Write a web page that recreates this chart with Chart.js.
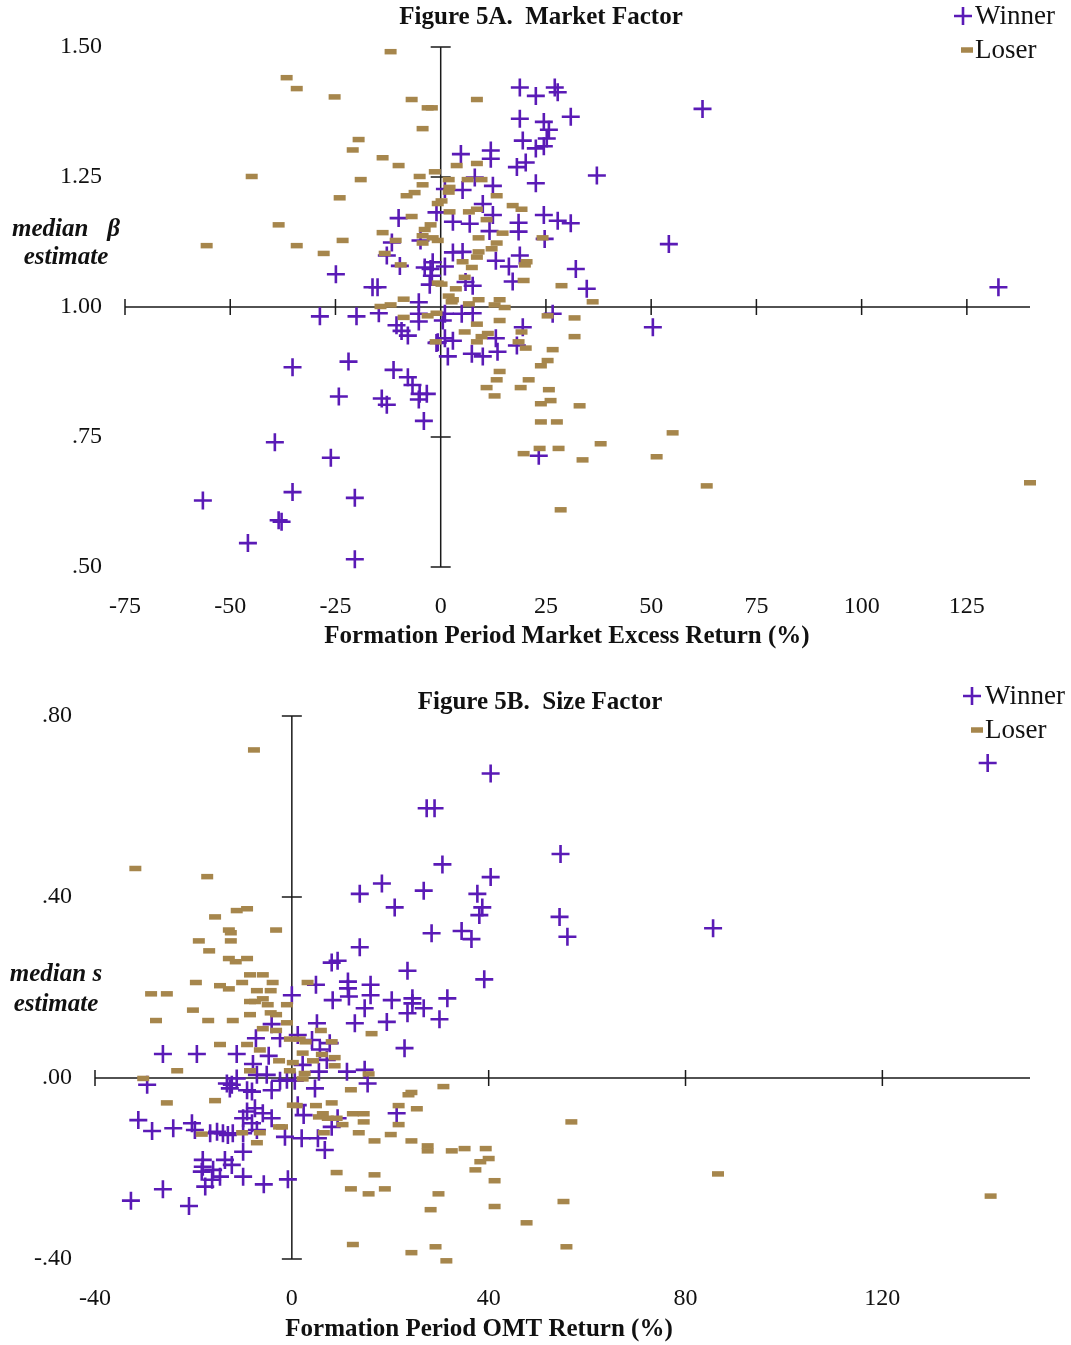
<!DOCTYPE html>
<html>
<head>
<meta charset="utf-8">
<title>Figure 5: Market and Size Factor Loadings</title>
<script src="https://cdn.jsdelivr.net/npm/chart.js@4.4.1/dist/chart.umd.min.js"></script>
<style>
  html, body { margin: 0; padding: 0; background: #ffffff; }
  #wrap { position: relative; width: 1071px; height: 1345px; }
  canvas { position: absolute; left: 0; }
  #fig5a { top: 0; }
  #fig5b { top: 660px; }
</style>
</head>
<body>
<div id="wrap">
  <canvas id="fig5a" width="1071" height="660"></canvas>
  <canvas id="fig5b" width="1071" height="685"></canvas>
</div>
<script>
// ---------- Figure 5A: market factor (median beta vs. formation-period market excess return, %) ----------
const seriesNames = ['Winner', 'Loser'];

const xTicks5A = [-75, -50, -25, 0, 25, 50, 75, 100, 125];
const xTickLabels5A = ['-75', '-50', '-25', '0', '25', '50', '75', '100', '125'];
const yTicks5A = [0.5, 0.75, 1.0, 1.25, 1.5];
const yTickLabels5A = ['.50', '.75', '1.00', '1.25', '1.50'];

const winnerX5A = [-10.0,-11.6,-4.8,-12.8,-9.7,-24.9,-15.0,-16.2,-3.8,-2.4,
  -2.6,-5.2,-1.0,18.8,22.6,27.1,27.8,30.9,18.8,24.5,
  25.7,25.2,19.5,22.6,24.5,4.8,11.9,11.9,18.1,20.2,
  37.1,22.6,8.1,12.4,5.2,10.0,1.0,24.5,27.8,30.9,
  18.5,18.5,12.4,2.9,6.9,11.6,24.7,18.8,13.1,16.2,
  32.1,5.2,2.9,1.0,-1.9,17.1,7.6,5.9,34.7,-2.1,
  62.2,54.2,132.5,-28.7,-20.0,-14.7,-5.2,-5.2,-10.5,-9.3,
  -7.8,-0.7,-35.2,-21.9,-11.2,-7.8,-6.7,-5.0,-3.3,-5.2,
  -14.0,-12.8,-24.2,-4.0,-39.4,-26.1,-56.5,-35.2,-20.4,-37.8,
  -38.5,-45.8,-20.4,0.5,1.0,5.0,7.6,26.6,19.5,50.4,
  1.0,2.9,-1.0,13.1,18.1,1.7,7.4,10.0,13.5,23.3];
const winnerY5A = [1.171,1.124,1.128,1.099,1.079,1.063,1.038,1.038,1.076,1.073,
  1.043,1.009,1.182,1.422,1.406,1.422,1.413,1.366,1.362,1.356,
  1.341,1.324,1.320,1.305,1.309,1.294,1.301,1.285,1.269,1.278,
  1.253,1.238,1.249,1.233,1.225,1.198,1.227,1.177,1.166,1.161,
  1.162,1.145,1.177,1.164,1.160,1.146,1.131,1.099,1.089,1.078,
  1.073,1.106,1.105,1.078,1.086,1.049,1.041,1.048,1.035,1.060,
  1.381,1.121,1.038,0.982,0.982,0.988,0.987,0.972,0.965,0.954,
  0.945,0.932,0.884,0.895,0.879,0.865,0.850,0.833,0.833,0.822,
  0.824,0.812,0.828,0.781,0.740,0.710,0.628,0.644,0.633,0.587,
  0.590,0.546,0.515,0.974,0.987,0.987,0.988,0.987,0.961,0.961,
  0.940,0.935,0.931,0.940,0.926,0.905,0.910,0.905,0.914,0.714];

const loserX5A = [-11.9,-36.6,-34.2,-25.2,-6.9,-3.1,-4.3,-19.5,-20.9,-13.8,
  -10.0,-44.9,-19.0,-1.4,-5.0,-4.3,-6.2,-8.1,-24.0,-0.7,
  -6.9,-38.5,-13.8,-3.8,-2.4,-55.6,-34.2,-23.3,-10.7,-4.3,
  -4.3,-1.9,-0.7,-27.8,-13.3,-9.5,-0.7,-8.8,-11.9,-14.3,
  8.6,-2.1,3.8,8.6,1.9,6.4,9.7,2.1,1.9,13.3,
  0.2,17.1,19.2,2.1,6.7,8.6,10.9,14.7,9.0,24.2,
  13.3,9.0,12.1,8.6,5.2,20.4,20.0,7.4,5.7,19.7,
  28.7,0.2,3.6,1.9,2.9,9.0,14.0,6.7,12.8,36.1,
  15.2,-8.8,-3.1,-1.0,-1.2,2.6,25.4,31.8,14.0,8.6,
  5.7,11.2,9.7,8.6,19.2,18.5,20.2,31.8,26.6,25.4,
  23.8,14.0,13.3,20.9,10.9,19.0,25.7,12.8,26.1,23.8,
  33.0,23.8,27.6,55.1,38.0,23.5,28.0,19.7,51.3,33.7,
  63.2,28.5,140.0];
const loserY5A = [1.491,1.441,1.420,1.404,1.399,1.383,1.343,1.322,1.302,1.287,
  1.272,1.251,1.245,1.260,1.251,1.235,1.220,1.214,1.210,1.199,
  1.174,1.158,1.143,1.149,1.158,1.118,1.118,1.128,1.128,1.137,
  1.123,1.133,1.128,1.103,1.103,1.081,1.046,1.015,1.004,1.001,
  1.399,1.383,1.272,1.276,1.245,1.245,1.245,1.230,1.221,1.214,
  1.204,1.195,1.188,1.183,1.183,1.188,1.168,1.142,1.133,1.133,
  1.123,1.106,1.112,1.096,1.087,1.087,1.081,1.076,1.057,1.051,
  1.041,1.044,1.035,1.021,1.014,1.014,1.014,1.006,1.004,1.010,
  0.999,0.980,0.983,0.988,0.933,1.010,0.983,0.979,0.974,0.967,
  0.952,0.949,0.943,0.933,0.952,0.933,0.921,0.943,0.918,0.897,
  0.887,0.876,0.860,0.860,0.845,0.845,0.841,0.829,0.820,0.814,
  0.810,0.779,0.779,0.758,0.737,0.728,0.728,0.718,0.712,0.706,
  0.656,0.610,0.662];

// ---------- Figure 5B: size factor (median s vs. formation-period OMT return, %) ----------
const xTicks5B = [-40, 0, 40, 80, 120];
const xTickLabels5B = ['-40', '0', '40', '80', '120'];
const yTicks5B = [-0.4, 0.0, 0.4, 0.8];
const yTickLabels5B = ['-.40', '.00', '.40', '.80'];

const winnerX5B = [-26.2,-19.3,-11.2,-7.3,-2.4,-4.1,-4.7,-7.9,0.0,40.4,
  27.4,29.0,30.6,40.4,18.3,13.8,26.8,37.7,20.9,38.7,
  38.1,28.4,34.5,36.5,13.8,8.1,9.3,23.5,39.1,4.9,
  11.4,11.4,16.0,16.0,8.3,20.3,24.5,31.6,54.6,54.4,
  56.0,85.6,141.4,11.6,14.8,24.5,23.5,26.8,30.0,5.1,
  12.8,19.3,22.9,1.2,4.1,7.7,5.7,2.2,5.5,7.1,
  11.2,14.8,15.4,4.7,-1.0,0.6,-2.4,1.2,2.4,21.3,
  8.1,9.3,-1.4,2.0,5.3,6.7,-0.8,-29.4,-13.2,-12.2,
  -11.2,-9.1,-8.1,-7.1,-5.1,-4.1,-12.6,-7.5,-9.1,-5.9,
  -4.1,-8.1,-7.1,-9.9,-31.2,-28.4,-24.1,-20.3,-19.7,-16.6,
  -15.2,-14.0,-13.0,-12.0,-9.9,-9.9,-18.1,-18.1,-13.6,-12.2,
  -16.0,-18.3,-14.6,-16.2,-17.6,-9.9,-5.7,-26.2,-32.7,-20.9];
const winnerY5B = [0.053,0.053,0.053,0.088,0.088,0.119,0.049,0.031,0.183,0.673,
  0.596,0.596,0.472,0.444,0.430,0.407,0.414,0.407,0.377,0.377,
  0.360,0.320,0.325,0.307,0.289,0.255,0.259,0.237,0.218,0.206,
  0.213,0.198,0.206,0.183,0.172,0.172,0.176,0.176,0.495,0.356,
  0.312,0.331,0.696,0.180,0.154,0.165,0.143,0.154,0.130,0.121,
  0.121,0.124,0.066,0.095,0.084,0.077,0.063,0.029,0.014,0.040,
  0.014,0.018,-0.012,-0.023,-0.004,-0.006,-0.006,-0.060,-0.082,-0.078,
  -0.108,-0.089,-0.130,-0.133,-0.133,-0.159,-0.224,-0.015,-0.012,-0.015,
  -0.001,-0.027,-0.030,0.007,0.007,-0.027,-0.023,-0.067,-0.074,-0.078,
  -0.089,-0.100,-0.115,-0.089,-0.093,-0.117,-0.111,-0.100,-0.115,-0.122,
  -0.119,-0.122,-0.126,-0.122,-0.122,-0.163,-0.181,-0.196,-0.181,-0.192,
  -0.203,-0.207,-0.218,-0.225,-0.240,-0.218,-0.235,-0.246,-0.271,-0.283];

const loserX5B = [-31.8,-17.2,-11.2,-9.1,-15.6,-12.8,-12.4,-3.2,-18.9,-12.4,
  -16.8,-12.8,-9.1,-11.4,-8.5,-5.9,-19.5,-14.6,-12.8,-10.1,
  -3.9,-7.1,-4.3,-28.6,-25.4,-8.5,-7.5,-5.9,-4.9,-1.0,
  -20.1,-8.5,-4.3,-3.2,-27.6,-17.0,-12.0,-1.0,-5.9,-3.2,
  -14.6,-9.1,-6.5,-2.6,-23.3,-8.5,-30.2,-0.4,-0.4,3.2,
  -7.7,86.6,142.0,5.9,16.2,8.1,1.6,2.8,2.2,6.1,
  8.7,4.3,0.2,8.7,2.6,2.2,15.6,12.0,30.8,24.3,
  23.7,8.1,4.9,1.0,21.7,25.4,12.4,14.6,6.3,5.5,
  7.3,9.1,14.6,10.3,21.7,-2.0,56.8,13.6,20.1,6.5,
  16.8,24.3,27.6,27.6,32.5,35.1,39.4,40.0,38.3,37.3,
  9.1,16.8,41.2,12.0,15.6,18.9,29.8,55.2,28.2,41.2,
  47.7,12.4,29.2,55.8,24.3,31.4,-25.4,-15.6,-18.3,-10.1,
  -6.5,-7.1,-2.6,0.2];
const loserY5B = [0.463,0.445,0.370,0.374,0.356,0.327,0.321,0.327,0.303,0.303,
  0.281,0.264,0.264,0.257,0.228,0.228,0.211,0.204,0.197,0.211,
  0.211,0.193,0.193,0.186,0.186,0.169,0.169,0.175,0.162,0.162,
  0.150,0.140,0.144,0.140,0.127,0.127,0.127,0.122,0.109,0.105,
  0.074,0.074,0.062,0.038,0.016,0.016,-0.001,0.016,0.086,0.211,
  0.725,-0.212,-0.261,0.105,0.098,0.080,0.086,0.080,0.055,0.052,
  0.045,0.038,0.034,0.027,0.010,-0.002,0.009,-0.026,-0.019,-0.032,
  -0.037,-0.055,-0.061,-0.061,-0.061,-0.068,-0.079,-0.079,-0.079,-0.086,
  -0.089,-0.089,-0.097,-0.103,-0.103,-0.108,-0.097,-0.121,-0.125,-0.121,
  -0.139,-0.139,-0.150,-0.161,-0.161,-0.156,-0.156,-0.178,-0.185,-0.203,
  -0.209,-0.214,-0.227,-0.245,-0.256,-0.245,-0.256,-0.273,-0.291,-0.284,
  -0.320,-0.368,-0.373,-0.373,-0.386,-0.404,-0.055,-0.050,-0.124,-0.121,
  -0.121,-0.143,-0.108,-0.060];

// ---------- shared styling ----------
const SERIF = "'Liberation Serif', 'Times New Roman', serif";
const INK = '#111111';
const WINNER_COLOR = '#5a1ab6';
const LOSER_COLOR = '#a6864c';
const winnerStyle = { pointStyle: 'cross', radius: 9, borderWidth: 2.6 };
const loserStyle = { pointStyle: 'line', radius: 6, borderWidth: 5.5 };

function toPoints(xs, ys) {
  return xs.map((x, i) => ({ x: x, y: ys[i] }));
}

// Axis lines crossing inside the plot, with tick marks on both sides of each line.
const crossAxes = {
  id: 'crossAxes',
  beforeDatasetsDraw(chart, args, opts) {
    const { ctx, chartArea } = chart;
    const xs = chart.scales.x, ys = chart.scales.y;
    const px0 = xs.getPixelForValue(opts.x0);
    const py0 = ys.getPixelForValue(opts.y0);
    ctx.save();
    ctx.strokeStyle = opts.color;
    ctx.lineWidth = opts.lineWidth;
    ctx.beginPath();
    ctx.moveTo(chartArea.left, py0); ctx.lineTo(chartArea.right, py0);
    ctx.moveTo(px0, chartArea.top); ctx.lineTo(px0, chartArea.bottom);
    xs.ticks.forEach(t => {
      if (t.value === opts.x0) return;
      const p = xs.getPixelForValue(t.value);
      ctx.moveTo(p, py0 - opts.tickX); ctx.lineTo(p, py0 + opts.tickX);
    });
    ys.ticks.forEach(t => {
      if (t.value === opts.y0) return;
      const p = ys.getPixelForValue(t.value);
      ctx.moveTo(px0 - opts.tickY, p); ctx.lineTo(px0 + opts.tickY, p);
    });
    ctx.stroke();
    ctx.restore();
  }
};

function drawMarker(ctx, style, color, x, y) {
  ctx.save();
  ctx.strokeStyle = color;
  ctx.fillStyle = color;
  ctx.lineWidth = style.borderWidth;
  if (Chart.helpers && Chart.helpers.drawPoint) {
    Chart.helpers.drawPoint(ctx, { pointStyle: style.pointStyle, radius: style.radius, borderWidth: style.borderWidth, rotation: 0 }, x, y);
  } else {
    ctx.beginPath();
    if (style.pointStyle === 'cross') {
      ctx.moveTo(x - style.radius, y); ctx.lineTo(x + style.radius, y);
      ctx.moveTo(x, y - style.radius); ctx.lineTo(x, y + style.radius);
    } else {
      ctx.moveTo(x - style.radius, y); ctx.lineTo(x + style.radius, y);
    }
    ctx.stroke();
  }
  ctx.restore();
}

// Panel title, axis title, vertical-axis caption and the key.
const panelText = {
  id: 'panelText',
  afterDraw(chart, args, o) {
    const ctx = chart.ctx;
    ctx.save();
    ctx.fillStyle = INK;
    ctx.textBaseline = 'middle';

    ctx.font = 'bold 25px ' + SERIF;
    ctx.textAlign = 'center';
    ctx.fillText(o.title.text, o.title.x, o.title.y);
    ctx.fillText(o.xTitle.text, o.xTitle.x, o.xTitle.y);

    ctx.font = 'italic bold 25px ' + SERIF;
    o.yCaption.lines.forEach((line, i) => {
      ctx.fillText(line, o.yCaption.x, o.yCaption.y + i * o.yCaption.gap);
    });

    ctx.font = '27px ' + SERIF;
    ctx.textAlign = 'left';
    o.key.forEach(k => {
      drawMarker(ctx, k.style, k.color, k.mx, k.y);
      ctx.fillStyle = INK;
      ctx.fillText(k.text, k.tx, k.y + 1);
    });
    ctx.restore();
  }
};

function makeChart(canvasId, cfg) {
  return new Chart(document.getElementById(canvasId), {
    type: 'scatter',
    data: {
      datasets: [
        {
          label: seriesNames[0],
          data: toPoints(cfg.winnerX, cfg.winnerY),
          pointStyle: winnerStyle.pointStyle,
          pointRadius: winnerStyle.radius,
          pointBorderWidth: winnerStyle.borderWidth,
          borderColor: WINNER_COLOR,
          backgroundColor: WINNER_COLOR,
          clip: false,
          order: 1
        },
        {
          label: seriesNames[1],
          data: toPoints(cfg.loserX, cfg.loserY),
          pointStyle: loserStyle.pointStyle,
          pointRadius: loserStyle.radius,
          pointBorderWidth: loserStyle.borderWidth,
          borderColor: LOSER_COLOR,
          backgroundColor: LOSER_COLOR,
          clip: false,
          order: 0
        }
      ]
    },
    options: {
      responsive: false,
      animation: false,
      events: [],
      layout: { padding: cfg.padding },
      scales: {
        x: {
          type: 'linear',
          min: cfg.xMin, max: cfg.xMax,
          afterBuildTicks: s => { s.ticks = cfg.xTicks.map(v => ({ value: v })); },
          afterFit: s => { s.height = 60; },
          grid: { display: false, drawTicks: false },
          border: { display: false },
          ticks: {
            autoSkip: false, maxRotation: 0, minRotation: 0,
            padding: 25,
            color: INK,
            font: { family: SERIF, size: 24 },
            callback: (v, i) => cfg.xTickLabels[i]
          }
        },
        y: {
          type: 'linear',
          min: cfg.yMin, max: cfg.yMax,
          afterBuildTicks: s => { s.ticks = cfg.yTicks.map(v => ({ value: v })); },
          afterFit: s => { s.width = cfg.yAxisWidth; },
          grid: { display: false, drawTicks: false },
          border: { display: false },
          ticks: {
            autoSkip: false,
            padding: 23,
            color: INK,
            font: { family: SERIF, size: 24 },
            callback: (v, i) => cfg.yTickLabels[i]
          }
        }
      },
      plugins: {
        legend: { display: false },
        tooltip: { enabled: false },
        title: { display: false },
        crossAxes: { x0: 0, y0: cfg.yCross, color: '#1a1a1a', lineWidth: 1.5, tickX: 8, tickY: 10 },
        panelText: cfg.text
      }
    },
    plugins: [crossAxes, panelText]
  });
}

makeChart('fig5a', {
  winnerX: winnerX5A, winnerY: winnerY5A, loserX: loserX5A, loserY: loserY5A,
  xMin: -75, xMax: 140, yMin: 0.5, yMax: 1.5, yCross: 1.0,
  xTicks: xTicks5A, xTickLabels: xTickLabels5A, yTicks: yTicks5A, yTickLabels: yTickLabels5A,
  yAxisWidth: 125,
  padding: { left: 0, right: 41, top: 47, bottom: 33 },
  text: {
    title: { text: 'Figure 5A.  Market Factor', x: 541, y: 18 },
    xTitle: { text: 'Formation Period Market Excess Return (%)', x: 567, y: 637 },
    yCaption: { lines: ['median   \u03B2', 'estimate'], x: 66, y: 230, gap: 28 },
    key: [
      { text: seriesNames[0], style: winnerStyle, color: WINNER_COLOR, mx: 963, tx: 975, y: 16 },
      { text: seriesNames[1], style: loserStyle, color: LOSER_COLOR, mx: 967, tx: 975, y: 50 }
    ]
  }
});

makeChart('fig5b', {
  winnerX: winnerX5B, winnerY: winnerY5B, loserX: loserX5B, loserY: loserY5B,
  xMin: -40, xMax: 150, yMin: -0.4, yMax: 0.8, yCross: 0.0,
  xTicks: xTicks5B, xTickLabels: xTickLabels5B, yTicks: yTicks5B, yTickLabels: yTickLabels5B,
  yAxisWidth: 95,
  padding: { left: 0, right: 41, top: 56, bottom: 26 },
  text: {
    title: { text: 'Figure 5B.  Size Factor', x: 540, y: 43 },
    xTitle: { text: 'Formation Period OMT Return (%)', x: 479, y: 670 },
    yCaption: { lines: ['median s', 'estimate'], x: 56, y: 315, gap: 30 },
    key: [
      { text: seriesNames[0], style: winnerStyle, color: WINNER_COLOR, mx: 972, tx: 985, y: 36 },
      { text: seriesNames[1], style: loserStyle, color: LOSER_COLOR, mx: 977, tx: 985, y: 70 }
    ]
  }
});
</script>
</body>
</html>
